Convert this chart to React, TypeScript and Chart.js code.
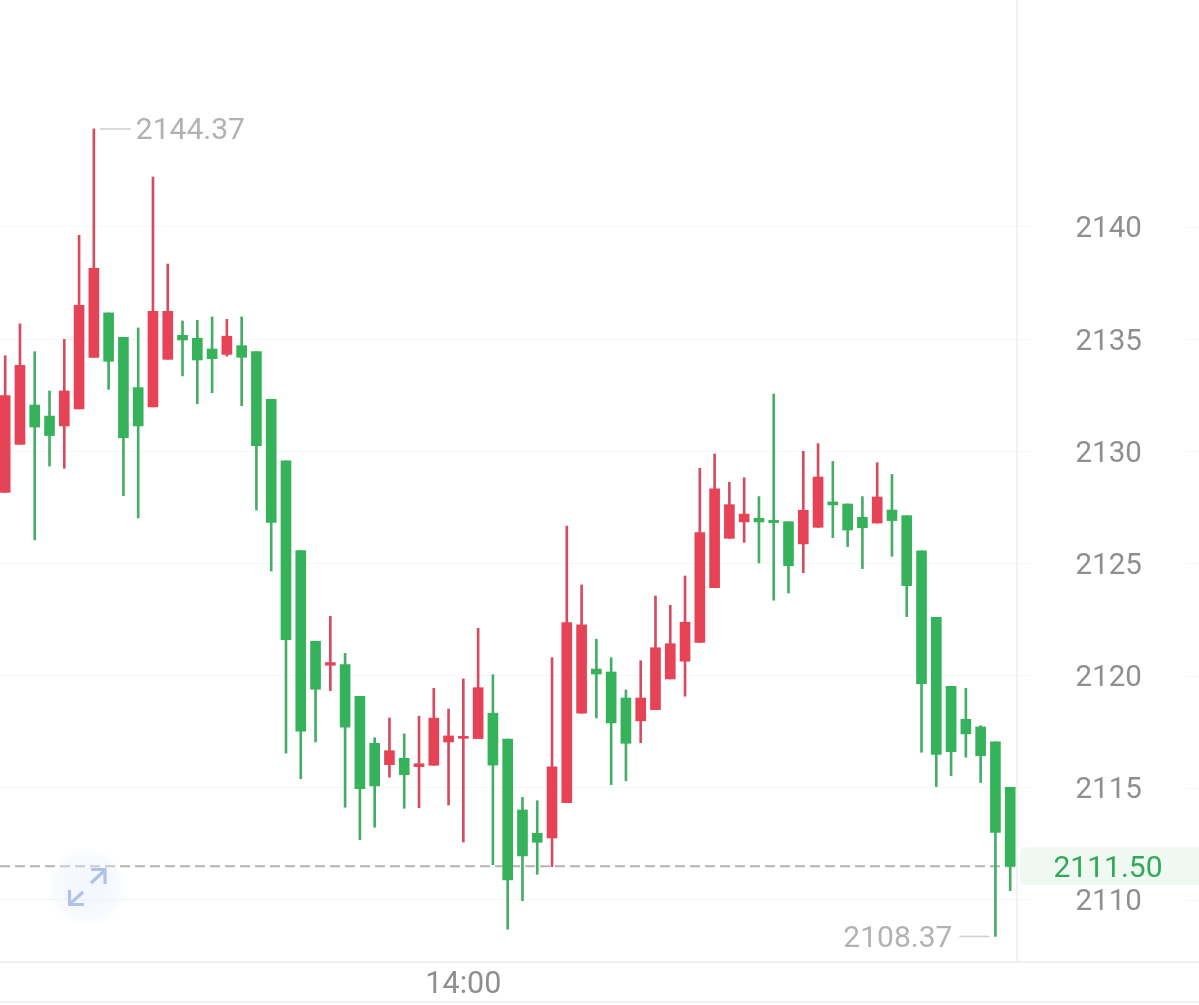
import React, { useEffect, useRef } from "react";
import { Chart, registerables } from "chart.js";

Chart.register(...registerables);

const opens = [2128.17,2130.31,2132.06,2131.57,2131.13,2131.89,2134.19,2136.17,2135.08,2132.84,2131.98,2134.10,2135.17,2135.04,2134.56,2134.32,2134.71,2134.44,2132.32,2129.57,2125.57,2121.53,2120.46,2120.49,2119.08,2116.98,2116.03,2116.31,2115.94,2116.00,2117.04,2117.20,2117.19,2118.32,2117.17,2114.01,2112.97,2112.76,2114.33,2118.32,2120.29,2120.16,2119.00,2117.98,2118.48,2119.85,2120.64,2121.48,2123.92,2126.12,2126.85,2127.01,2126.92,2126.86,2125.87,2126.61,2127.74,2127.65,2127.06,2126.80,2127.38,2127.13,2125.56,2122.60,2119.52,2118.05,2117.71,2117.05,2115.02];
const closes = [2132.48,2133.83,2131.08,2130.70,2132.69,2136.51,2138.16,2134.01,2130.61,2131.13,2136.24,2136.24,2134.96,2134.07,2134.13,2135.13,2134.19,2130.25,2126.83,2121.60,2117.52,2119.39,2120.58,2117.70,2114.96,2115.08,2116.65,2115.58,2116.07,2118.10,2117.31,2117.29,2119.46,2116.01,2110.89,2111.96,2112.57,2115.93,2122.36,2122.26,2120.07,2117.89,2116.98,2119.00,2121.24,2121.42,2122.38,2126.37,2128.33,2127.62,2127.20,2126.85,2126.82,2124.90,2127.37,2128.85,2127.61,2126.49,2126.59,2127.96,2126.91,2124.01,2119.64,2116.49,2116.61,2117.40,2116.43,2113.01,2111.50];
const highs = [2134.26,2135.68,2134.44,2132.69,2134.99,2139.63,2144.37,2136.17,2135.08,2135.50,2142.23,2138.35,2135.81,2135.84,2135.99,2135.88,2135.99,2134.44,2132.32,2129.57,2125.57,2121.53,2122.64,2120.99,2119.08,2117.23,2118.11,2117.40,2118.19,2119.43,2118.51,2119.85,2122.11,2120.04,2117.17,2114.57,2114.42,2120.80,2126.66,2124.04,2121.62,2120.80,2119.36,2120.66,2123.55,2123.13,2124.44,2129.24,2129.88,2128.62,2128.82,2127.98,2132.55,2126.86,2130.00,2130.34,2129.55,2127.65,2127.98,2129.49,2128.97,2127.13,2125.56,2122.60,2119.52,2119.43,2117.77,2117.05,2115.02];
const lows = [2128.17,2130.31,2126.05,2129.34,2129.24,2131.89,2134.19,2132.76,2128.02,2127.03,2131.98,2134.10,2133.36,2132.12,2132.61,2134.24,2132.03,2127.38,2124.66,2116.54,2115.40,2117.04,2119.33,2114.13,2112.68,2113.24,2115.47,2114.08,2114.11,2116.00,2114.23,2112.58,2117.19,2111.57,2108.69,2109.96,2111.14,2111.48,2114.33,2118.32,2118.11,2115.14,2115.31,2117.01,2118.48,2119.85,2119.08,2121.48,2123.92,2126.12,2125.94,2125.02,2123.36,2123.68,2124.59,2126.61,2126.15,2125.75,2124.77,2126.80,2125.32,2122.63,2116.58,2115.05,2115.54,2116.36,2115.23,2108.37,2110.41];

const priceTicks = [2140, 2135, 2130, 2125, 2120, 2115, 2110];
const timeTickIndexes = [31];
const timeTickLabels = ["14:00"];
const lastPrice = 2111.5;
const lastPriceLabel = "2111.50";
const highLabel = "2144.37";
const lowLabel = "2108.37";
const highIndex = 6;
const lowIndex = 67;

const RED = "#e64356";
const GREEN = "#36b35a";
const RED_WICK = "#d24d60";
const GREEN_WICK = "#46ad68";
const FONT = "Roboto";

const decorations = {
  id: "decorations",
  beforeDatasetsDraw(chart: any) {
    const { ctx, chartArea, scales, width } = chart;
    const y = scales.y;
    ctx.save();
    // right-hand rest of the grid lines
    ctx.strokeStyle = "#f6f6f6";
    ctx.lineWidth = 1;
    priceTicks.forEach((t) => {
      const py = Math.round(y.getPixelForValue(t)) + 0.5;
      ctx.beginPath();
      ctx.moveTo(1186, py);
      ctx.lineTo(width, py);
      ctx.stroke();
    });
    // bottom rules
    ctx.strokeStyle = "#f0f0f0";
    ctx.lineWidth = 2;
    [chartArea.bottom, chartArea.bottom + 40].forEach((py) => {
      ctx.beginPath();
      ctx.moveTo(0, py);
      ctx.lineTo(width, py);
      ctx.stroke();
    });
    // current price band
    const py = y.getPixelForValue(lastPrice);
    ctx.fillStyle = "#eff9f2";
    ctx.beginPath();
    ctx.roundRect(chartArea.right + 3, py - 19, width - chartArea.right - 3, 38, [6, 0, 0, 6]);
    ctx.fill();
    // current price dashed line
    ctx.strokeStyle = "#b4b4b4";
    ctx.lineWidth = 2;
    ctx.setLineDash([10, 5]);
    ctx.beginPath();
    ctx.moveTo(0, py);
    ctx.lineTo(chartArea.right, py);
    ctx.stroke();
    ctx.restore();
  },
  afterDatasetsDraw(chart: any) {
    const { ctx, scales } = chart;
    const { x, y } = scales;
    ctx.save();
    ctx.font = `30px ${FONT}`;
    ctx.textBaseline = "middle";

    // current price text
    ctx.fillStyle = "#33a85a";
    ctx.textAlign = "center";
    ctx.fillText(lastPriceLabel, 1108, y.getPixelForValue(lastPrice) + 3);

    // extreme labels
    ctx.fillStyle = "#b2b2b2";
    ctx.strokeStyle = "#cfcfcf";
    ctx.lineWidth = 1.5;
    const hx = x.getPixelForValue(highIndex);
    const hy = y.getPixelForValue(highs[highIndex]);
    ctx.beginPath();
    ctx.moveTo(hx + 6, hy);
    ctx.lineTo(hx + 37, hy);
    ctx.stroke();
    ctx.textAlign = "left";
    ctx.fillText(highLabel, hx + 42, hy + 3);

    const lx = x.getPixelForValue(lowIndex);
    const ly = y.getPixelForValue(lows[lowIndex]);
    ctx.beginPath();
    ctx.moveTo(lx - 36, ly);
    ctx.lineTo(lx - 6, ly);
    ctx.stroke();
    ctx.textAlign = "right";
    ctx.fillText(lowLabel, lx - 43, ly + 3);

    // expand button
    const cx = 87;
    const cy = 887;
    const g = ctx.createRadialGradient(cx, cy, 10, cx, cy, 39);
    g.addColorStop(0, "rgba(232,240,253,0.5)");
    g.addColorStop(0.75, "rgba(232,240,253,0.35)");
    g.addColorStop(1, "rgba(232,240,253,0)");
    ctx.fillStyle = g;
    ctx.beginPath();
    ctx.arc(cx, cy, 39, 0, Math.PI * 2);
    ctx.fill();
    ctx.strokeStyle = "#aec2ea";
    ctx.lineWidth = 3.2;
    ctx.beginPath();
    ctx.moveTo(91, 883);
    ctx.lineTo(105, 870);
    ctx.moveTo(91, 869.5);
    ctx.lineTo(105, 869.5);
    ctx.lineTo(105, 884);
    ctx.moveTo(83, 892);
    ctx.lineTo(70, 904);
    ctx.moveTo(69.5, 890);
    ctx.lineTo(69.5, 904.5);
    ctx.lineTo(84, 904.5);
    ctx.stroke();
    ctx.restore();
  },
};

export default function App() {
  const ref = useRef<HTMLCanvasElement | null>(null);
  useEffect(() => {
    const isUp = opens.map((o, i) => closes[i] >= o);
    const chart = new Chart(ref.current as HTMLCanvasElement, {
      type: "bar",
      data: {
        datasets: [
          {
            label: "body",
            order: 0,
            grouped: false,
            barThickness: 10,
            data: opens.map((o, i) => ({ x: i, y: [o, closes[i]] })),
            backgroundColor: isUp.map((u) => (u ? RED : GREEN)),
          },
          {
            label: "wick",
            order: 1,
            grouped: false,
            barThickness: 2,
            data: highs.map((h, i) => ({ x: i, y: [lows[i], h] })),
            backgroundColor: isUp.map((u) => (u ? RED_WICK : GREEN_WICK)),
          },
        ] as any,
      },
      options: {
        responsive: false,
        animation: false,
        layout: { padding: 0 },
        plugins: { legend: { display: false }, tooltip: { enabled: false } },
        scales: {
          x: {
            type: "linear",
            min: -0.35,
            max: 68.46,
            offset: false,
            grid: { display: false },
            border: { display: false },
            afterBuildTicks: (s: any) => {
              s.ticks = timeTickIndexes.map((value) => ({ value }));
            },
            afterFit: (s: any) => {
              s.height = 43;
              s.paddingLeft = 0;
              s.paddingRight = 0;
            },
            ticks: {
              autoSkip: false,
              maxRotation: 0,
              padding: -3,
              color: "#8f8f8f",
              font: { family: FONT, size: 30.5 },
              callback: (v: any) => timeTickLabels[timeTickIndexes.indexOf(Number(v))] ?? "",
            },
          },
          y: {
            type: "linear",
            position: "right",
            min: 2107.23,
            max: 2150.12,
            grid: { color: "#f6f6f6", lineWidth: 1, tickLength: 13 },
            border: { display: true, color: "#f2f2f2", width: 2 },
            afterBuildTicks: (s: any) => {
              s.ticks = priceTicks.map((value) => ({ value }));
            },
            afterFit: (s: any) => {
              s.width = 182;
              s.paddingTop = 0;
              s.paddingBottom = 0;
            },
            ticks: {
              padding: 45.5,
              color: "#8f8f8f",
              font: { family: FONT, size: 29.5, lineHeight: "6px" },
              // the empty first line moves the digits a few pixels below the grid line
              callback: (v: any) => ["", String(v)],
            },
          },
        },
      } as any,
      plugins: [decorations],
    });
    return () => chart.destroy();
  }, []);
  return (
    <canvas
      ref={ref}
      width={1199}
      height={1005}
      style={{ position: "absolute", left: 0, top: 0, display: "block", background: "#ffffff" }}
    />
  );
}
